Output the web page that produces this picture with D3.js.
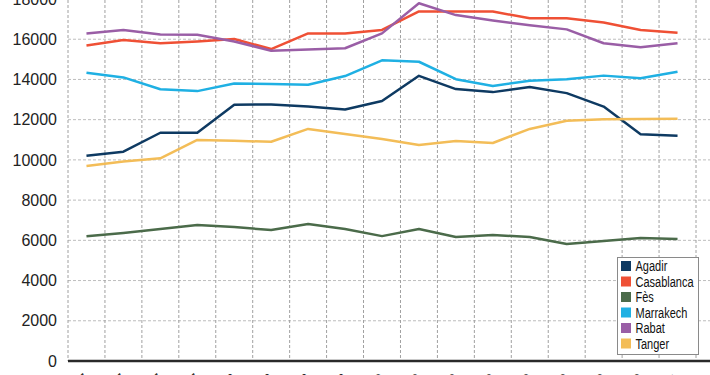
<!DOCTYPE html>
<html>
<head>
<meta charset="utf-8">
<script src="https://cdn.jsdelivr.net/npm/d3@7"></script>
<style>
  body { margin: 0; background: #fff; }
  svg { display: block; }
</style>
</head>
<body>
<svg id="chart" width="710" height="375"></svg>
<script>
const periods = ["T1 2017","T2 2017","T3 2017","T4 2017","T1 2018","T2 2018","T3 2018","T4 2018",
  "T1 2019","T2 2019","T3 2019","T4 2019","T1 2020","T2 2020","T3 2020","T4 2020","T1 2021"];
const cities = ["Agadir","Casablanca","Fès","Marrakech","Rabat","Tanger"];
const agadir     = [10210,10410,11350,11350,12740,12760,12650,12510,12930,14180,13520,13370,13620,13320,12650,11280,11200];
const casablanca = [15690,15960,15800,15890,16010,15510,16290,16290,16460,17380,17380,17380,17040,17040,16830,16460,16320];
const fes        = [6200,6360,6560,6760,6660,6510,6810,6560,6210,6560,6170,6260,6170,5820,5970,6120,6070];
const marrakech  = [14330,14100,13510,13420,13800,13770,13740,14170,14950,14880,14010,13670,13940,14010,14190,14060,14380];
const rabat      = [16290,16460,16240,16220,15890,15430,15490,15550,16290,17790,17200,16930,16700,16490,15800,15600,15800];
const tanger     = [9700,9920,10080,10990,10950,10900,11540,11290,11040,10740,10940,10840,11540,11950,12020,12030,12040];
const yTicks = [0,2000,4000,6000,8000,10000,12000,14000,16000,18000];

const seriesValues = [agadir, casablanca, fes, marrakech, rabat, tanger];
const colors = ["#0e3a62","#ef5035","#4b6b4a","#1fb0e3","#9a5ea6","#f3bd58"];

const svg = d3.select("#chart");
const mLeft = 68, mRight = 696, mBottom = 361, mTop = -1, W = 710;

const x = d3.scaleBand().domain(periods).range([mLeft, mRight]).padding(0);
const y = d3.scaleLinear().domain([0, 18000]).range([mBottom, mTop]);
const cx = d => x(d) + x.bandwidth() / 2;

// horizontal grid
svg.append("g").selectAll("line")
  .data(yTicks.filter(t => t > 0))
  .join("line")
  .attr("x1", mLeft).attr("x2", W)
  .attr("y1", d => y(d)).attr("y2", d => y(d))
  .attr("stroke", "#bdbdbd").attr("stroke-width", 1)
  .attr("stroke-dasharray", "3,2");

// vertical grid at band boundaries
const bounds = periods.map(p => x(p)).concat([x(periods[periods.length - 1]) + x.bandwidth()]);
svg.append("g").selectAll("line")
  .data(bounds)
  .join("line")
  .attr("x1", d => d).attr("x2", d => d)
  .attr("y1", 0).attr("y2", mBottom)
  .attr("stroke", "#a0a0a0").attr("stroke-width", 1)
  .attr("stroke-dasharray", "3,2");

// y axis labels
const yAxis = svg.append("g")
  .attr("transform", `translate(${mLeft},0)`)
  .call(d3.axisLeft(y).tickValues(yTicks).tickSize(0).tickPadding(11).tickFormat(d3.format("d")));
yAxis.select(".domain").remove();
yAxis.selectAll("text")
  .attr("font-family", "'Liberation Sans', Arial, sans-serif")
  .attr("font-size", 16).attr("fill", "#222");

// x axis labels (rotated, mostly below the visible area, as in the reference crop)
const xAxis = svg.append("g")
  .attr("transform", `translate(0,${mBottom})`)
  .call(d3.axisBottom(x).tickSize(0).tickPadding(0));
xAxis.select(".domain").remove();
xAxis.selectAll("text")
  .attr("font-family", "'Liberation Sans', Arial, sans-serif")
  .attr("font-size", 13).attr("fill", "#222")
  .attr("text-anchor", "end")
  .attr("dy", 0)
  .attr("transform", "translate(3,18) rotate(-45)");

// bottom axis line
svg.append("line")
  .attr("x1", mLeft).attr("x2", W)
  .attr("y1", mBottom).attr("y2", mBottom)
  .attr("stroke", "#2a2a2a").attr("stroke-width", 2.5);

// lines
const line = d3.line()
  .x((d, i) => cx(periods[i]))
  .y(d => y(d));
svg.append("g").selectAll("path")
  .data(seriesValues)
  .join("path")
  .attr("d", d => line(d))
  .attr("fill", "none")
  .attr("stroke", (d, i) => colors[i])
  .attr("stroke-width", 2.5)
  .attr("stroke-linejoin", "round");

// legend
const lg = svg.append("g");
lg.append("rect")
  .attr("x", 617.5).attr("y", 257.5).attr("width", 81).attr("height", 97)
  .attr("fill", "#fff").attr("stroke", "#8a8a8a").attr("stroke-width", 1);
const items = lg.selectAll("g.item").data(cities).join("g")
  .attr("class", "item")
  .attr("transform", (d, i) => `translate(621,${266 + i * 15.5})`);
items.append("rect")
  .attr("x", 0).attr("y", -5).attr("width", 10).attr("height", 10)
  .attr("fill", (d, i) => colors[i]);
items.append("text")
  .attr("transform", "translate(14.5,0) scale(0.76,1)")
  .attr("x", 0).attr("y", 0).attr("dy", "0.36em")
  .attr("font-family", "'Liberation Sans', Arial, sans-serif")
  .attr("font-size", 14.5).attr("fill", "#111")
  .text(d => d);
</script>
</body>
</html>
